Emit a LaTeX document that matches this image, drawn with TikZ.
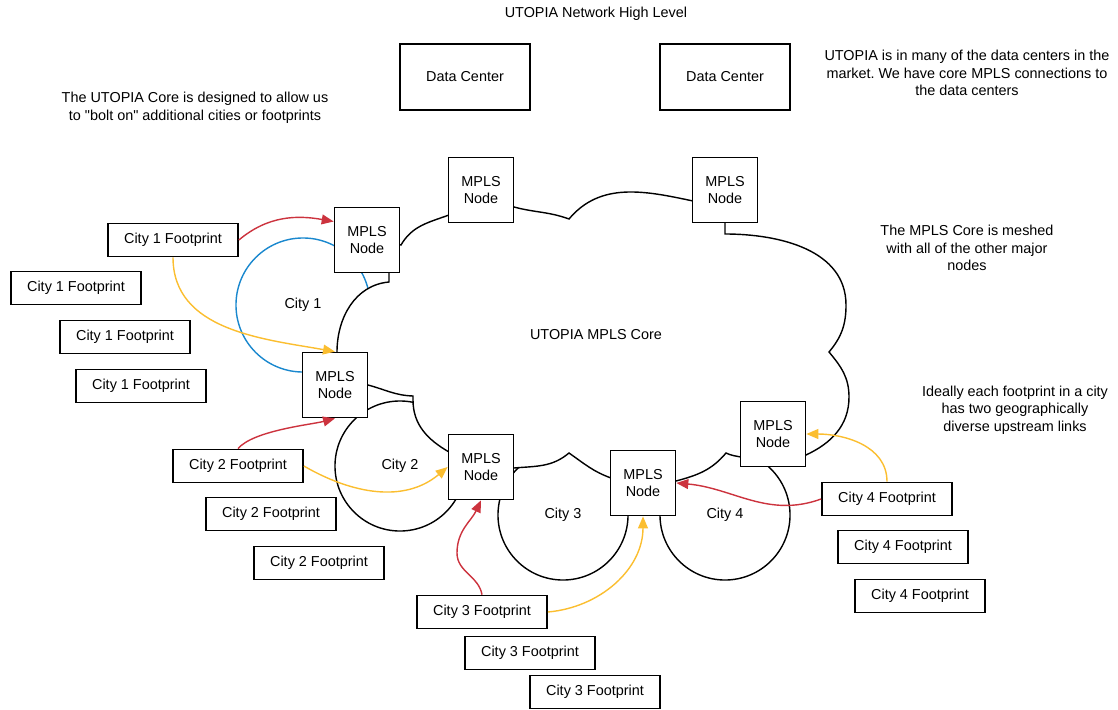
\documentclass[tikz,border=0pt]{standalone}
\usepackage{fontspec}
\setmainfont{Liberation Sans}
\usepackage{xcolor}
\usetikzlibrary{arrows.meta, positioning}
\definecolor{linkred}{RGB}{204,51,62}
\definecolor{linkyellow}{RGB}{251,190,48}
\definecolor{cityblue}{RGB}{26,136,206}
\frenchspacing
\begin{document}
\begin{tikzpicture}[x=0.025cm, y=0.025cm,
  every node/.style={font=\fontsize{10.25}{12.45}\selectfont, align=center},
  box/.style={draw, rectangle, line width=1.2pt, fill=white, inner sep=0pt},
  fp/.style={box, minimum width=3.25cm, minimum height=0.825cm},
  mpls/.style={box, minimum width=1.625cm, minimum height=1.625cm},
  dc/.style={box, minimum width=3.25cm, minimum height=1.65cm},
  city/.style={draw, circle, line width=1pt, inner sep=0pt},
  link/.style={line width=1pt, -{Triangle[length=8.5pt, width=7pt]}},
  redlink/.style={link, draw=linkred},
  yellowlink/.style={link, draw=linkyellow}]
  \useasboundingbox (0,0) rectangle (1118,-710);

  \node (title) at (596,-14) {UTOPIA Network High Level};
  \node[dc] (dc1) at (465,-77) {Data Center};
  \node[dc] (dc2) at (725,-77) {Data Center};
  \node (bolton) at (195,-108) {The UTOPIA Core is designed to allow us\\to \textquotedbl bolt on\textquotedbl{} additional cities or footprints};
  \node (dcnote) at (967,-73) {UTOPIA is in many of the data centers in the\\market. We have core MPLS connections to\\the data centers};
  \node (meshnote) at (967,-248) {The MPLS Core is meshed\\with all of the other major\\nodes};
  \node (linknote) at (1015,-410) {Ideally each footprint in a city\\has two geographically\\diverse upstream links};

  % cities sit under the core
  \node[city, draw=cityblue, minimum size=3.35cm] (city1) at (303,-305) {City 1};
  \node[city, minimum size=3.25cm] (city2) at (400,-466) {City 2};
  \node[city, minimum size=3.25cm] (city3) at (563,-515) {City 3};
  \node[city, minimum size=3.25cm] (city4) at (725,-515) {City 4};

  % the core cloud
  \draw[line width=1pt, fill=white] (389,-272) -- (389,-282) to[out=185,in=90] (337,-352)
    -- (336,-385) -- (368,-385) to[out=-15,in=178] (413,-396) -- (413,-400)
    to[out=-90,in=150] (449,-452) -- (481,-467) -- (514,-468)
    to[out=5,in=-140] (569,-453) to[out=-35,in=160] (611,-478) -- (643,-483) -- (676,-481)
    to[out=15,in=-130] (726,-453) to[out=-25,in=170] (741,-457) -- (773,-434) -- (806,-455)
    to[out=25,in=-90] (849,-397) to[out=90,in=-50] (829,-352) to[out=50,in=-90] (846,-305)
    to[out=90,in=0] (725,-234) -- (725,-223) -- (725,-190) -- (693,-201)
    to[out=168,in=50] (569,-219) to[out=160,in=-15] (514,-207) -- (481,-190) -- (449,-215)
    to[out=200,in=60] (401,-245) -- (367,-240) -- cycle;
  \node (core) at (596,-335) {UTOPIA MPLS Core};

  \node[mpls] (mpls1) at (367,-240) {MPLS\\Node};
  \node[mpls] (mpls2) at (481,-190) {MPLS\\Node};
  \node[mpls] (mpls3) at (725,-190) {MPLS\\Node};
  \node[mpls] (mpls4) at (335,-385) {MPLS\\Node};
  \node[mpls] (mpls5) at (481,-467) {MPLS\\Node};
  \node[mpls] (mpls6) at (643,-483) {MPLS\\Node};
  \node[mpls] (mpls7) at (773,-434) {MPLS\\Node};

  \node[fp] (fp1a) at (173,-240) {City 1 Footprint};
  \node[fp] (fp1b) at (76,-288) {City 1 Footprint};
  \node[fp] (fp1c) at (125,-337) {City 1 Footprint};
  \node[fp] (fp1d) at (141,-386) {City 1 Footprint};
  \node[fp] (fp2a) at (238,-466) {City 2 Footprint};
  \node[fp] (fp2b) at (271,-514) {City 2 Footprint};
  \node[fp] (fp2c) at (319,-563) {City 2 Footprint};
  \node[fp] (fp3a) at (482,-612) {City 3 Footprint};
  \node[fp] (fp3b) at (530,-653) {City 3 Footprint};
  \node[fp] (fp3c) at (595,-692) {City 3 Footprint};
  \node[fp] (fp4a) at (887,-499) {City 4 Footprint};
  \node[fp] (fp4b) at (903,-547) {City 4 Footprint};
  \node[fp] (fp4c) at (920,-596) {City 4 Footprint};

  \draw[redlink] (fp1a.east) to[out=40,in=170] (mpls1.151);
  \draw[yellowlink] (fp1a.south) to[out=-90,in=170] (mpls4.north);
  \draw[redlink] (fp2a.north) to[out=50,in=195, looseness=0.6] (mpls4.south);
  \draw[yellowlink] (fp2a.east) to[out=-30,in=-140] (mpls5.west);
  \coordinate (bend3) at (457,-553);
  \draw[redlink] (fp3a.north) to[out=100,in=-90] (bend3) to[out=90,in=-115] (mpls5.south);
  \draw[yellowlink] (fp3a.east) to[out=5,in=-90] (mpls6.south);
  \draw[redlink] (fp4a.west) to[out=200,in=-5] (mpls6.east);
  \draw[yellowlink] (fp4a.north) to[out=90,in=0] (mpls7.east);
\end{tikzpicture}
\end{document}
